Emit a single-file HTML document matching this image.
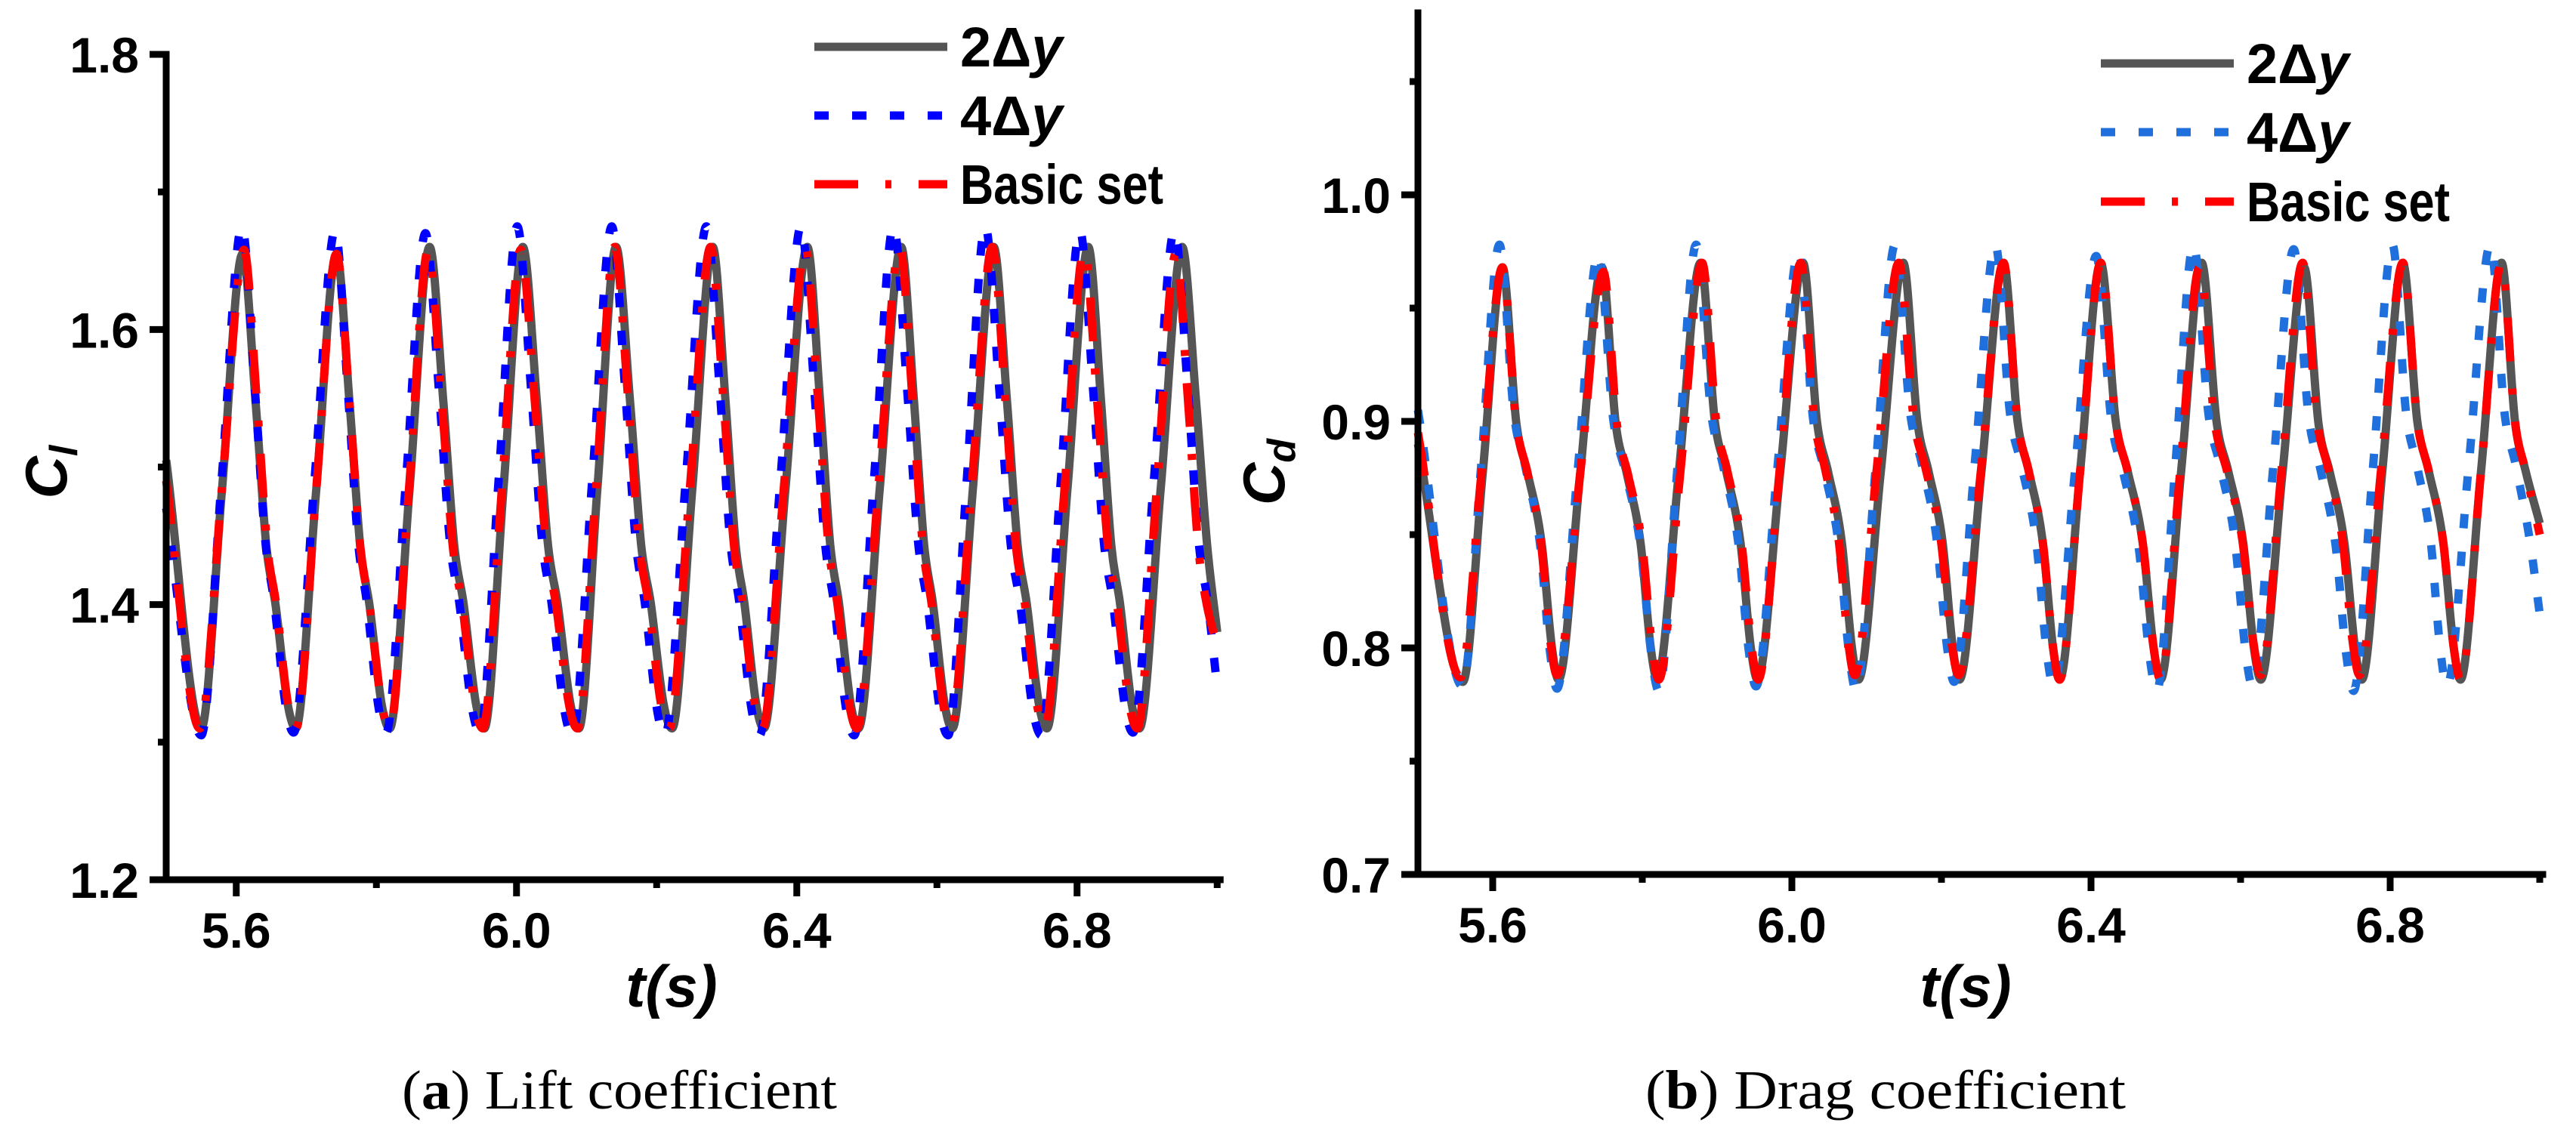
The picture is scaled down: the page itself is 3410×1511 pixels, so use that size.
<!DOCTYPE html>
<html>
<head>
<meta charset="utf-8">
<style>
html,body{margin:0;padding:0;background:#fff;}
svg{display:block;}
.tick{font-family:"Liberation Sans",sans-serif;font-weight:bold;font-size:66px;fill:#000;}
.leg{font-family:"Liberation Sans",sans-serif;font-weight:bold;font-size:74px;fill:#000;}
.ttl{font-family:"Liberation Sans",sans-serif;font-weight:bold;font-style:italic;font-size:78px;fill:#000;}
.cap{font-family:"Liberation Serif",serif;font-size:73px;fill:#000;}
</style>
</head>
<body>
<svg id="fig" width="3410" height="1511" viewBox="0 0 3410 1511" xmlns="http://www.w3.org/2000/svg">
  <g id="chartA"></g>
  <g id="chartB"></g>
</svg>
<script>
// ---------- Lift chart data ----------
const liftGreyPeakT = [5.609,5.743,5.876,6.009,6.142,6.280,6.415,6.549,6.681,6.816,6.950];
const liftGreyPeakV = [1.655,1.655,1.660,1.660,1.660,1.660,1.660,1.660,1.660,1.660,1.660];
const liftGreyTroughT = [5.550,5.685,5.819,5.954,6.089,6.222,6.353,6.488,6.622,6.757,6.889];
const liftGreyTroughV = [1.310,1.310,1.310,1.310,1.310,1.310,1.310,1.310,1.310,1.310,1.310];
const liftGreyEnds = [1.505,1.380];

const liftBluePeakT = [5.608,5.741,5.870,6.001,6.136,6.271,6.406,6.538,6.669,6.804,6.939];
const liftBluePeakV = [1.675,1.672,1.670,1.675,1.675,1.675,1.675,1.675,1.675,1.672,1.672];
const liftBlueTroughT = [5.550,5.682,5.814,5.948,6.080,6.212,6.347,6.482,6.616,6.749,6.880];
const liftBlueTroughV = [1.305,1.307,1.307,1.307,1.305,1.305,1.305,1.305,1.305,1.305,1.307];
const liftBlueEnds = [1.470,1.340];

const liftRedPeakT = [5.611,5.743,5.874,6.006,6.140,6.277,6.412,6.547,6.679,6.810,6.941];
const liftRedPeakV = [1.658,1.655,1.658,1.658,1.660,1.660,1.660,1.660,1.660,1.658,1.655];
const liftRedTroughT = [5.548,5.685,5.819,5.952,6.087,6.218,6.351,6.486,6.620,6.754,6.886];
const liftRedTroughV = [1.310,1.310,1.310,1.310,1.310,1.310,1.310,1.310,1.310,1.310,1.310];
const liftRedEnds = [1.490,1.370];

const liftYTicks = ["1.2","1.4","1.6","1.8"];
const liftXTicks = ["5.6","6.0","6.4","6.8"];

// ---------- Drag chart data ----------
const dragGreyPeakT = [5.613,5.746,5.878,6.015,6.149,6.283,6.413,6.548,6.685,6.817,6.949];
const dragGreyPeakV = [0.968,0.968,0.970,0.970,0.970,0.970,0.970,0.970,0.968,0.970,0.970];
const dragGreyTroughT = [5.560,5.688,5.820,5.954,6.089,6.224,6.358,6.493,6.627,6.762,6.894];
const dragGreyTroughV = [0.785,0.786,0.786,0.786,0.786,0.786,0.786,0.786,0.786,0.786,0.786];
const dragGreyEnds = [0.890,0.855];

const dragBluePeakT = [5.609,5.741,5.872,6.009,6.138,6.272,6.407,6.537,6.671,6.803,6.934];
const dragBluePeakV = [0.978,0.974,0.978,0.975,0.978,0.978,0.973,0.978,0.976,0.978,0.978];
const dragBlueTroughT = [5.560,5.686,5.822,5.952,6.086,6.217,6.350,6.488,6.616,6.751,6.876];
const dragBlueTroughV = [0.783,0.782,0.781,0.783,0.781,0.785,0.783,0.781,0.783,0.781,0.783];
const dragBlueEnds = [0.905,0.815];

const dragRedPeakT = [5.613,5.748,5.880,6.012,6.143,6.283,6.413,6.545,6.683,6.817,6.949];
const dragRedPeakV = [0.968,0.966,0.970,0.970,0.970,0.970,0.970,0.968,0.970,0.970,0.970];
const dragRedTroughT = [5.557,5.686,5.822,5.955,6.084,6.223,6.358,6.493,6.627,6.759,6.894];
const dragRedTroughV = [0.787,0.788,0.786,0.786,0.788,0.788,0.786,0.786,0.788,0.788,0.786];
const dragRedEnds = [0.895,0.850];

const dragYTicks = ["0.7","0.8","0.9","1.0"];
const dragXTicks = ["5.6","6.0","6.4","6.8"];

const legendLabels = ["2Δ","4Δ","Basic set"];

const NS = "http://www.w3.org/2000/svg";
function mk(tag, attrs, parent){
  const e = document.createElementNS(NS, tag);
  for (const k in attrs) e.setAttribute(k, attrs[k]);
  parent.appendChild(e);
  return e;
}

function monoPath(pts){
  const n = pts.length;
  const dx=[], dy=[], m=[];
  for(let i=0;i<n-1;i++){dx.push(pts[i+1][0]-pts[i][0]); dy.push(pts[i+1][1]-pts[i][1]); m.push(dy[i]/dx[i]);}
  const t=[m[0]];
  for(let i=1;i<n-1;i++){ t.push(m[i-1]*m[i]<=0?0:(m[i-1]+m[i])/2); }
  t.push(m[n-2]);
  for(let i=0;i<n-1;i++){
    if(m[i]===0){t[i]=0;t[i+1]=0;continue;}
    const a=t[i]/m[i], b=t[i+1]/m[i], s=a*a+b*b;
    if(s>9){const k=3/Math.sqrt(s); t[i]=k*a*m[i]; t[i+1]=k*b*m[i];}
  }
  let d = "M"+pts[0][0].toFixed(1)+","+pts[0][1].toFixed(1);
  for(let i=0;i<n-1;i++){
    const h=dx[i];
    d += " C"+(pts[i][0]+h/3).toFixed(1)+","+(pts[i][1]+t[i]*h/3).toFixed(1)+" "+
         (pts[i+1][0]-h/3).toFixed(1)+","+(pts[i+1][1]-t[i+1]*h/3).toFixed(1)+" "+
         pts[i+1][0].toFixed(1)+","+pts[i+1][1].toFixed(1);
  }
  return d;
}

function seriesPoints(peakT,peakV,trT,trV,ends,fall,t0,t1){
  const p=[[t0,ends[0]]];
  for(let i=0;i<peakT.length;i++){
    const A = peakV[i]-trV[i];
    p.push([trT[i],trV[i]]);
    p.push([trT[i]+(peakT[i]-trT[i])*0.5, trV[i]+0.5*A]);
    p.push([peakT[i],peakV[i]]);
    const nt = i+1<trT.length ? trT[i+1] : peakT[i]+(peakT[i]-trT[i])*1.3;
    const nv = i+1<trV.length ? trV[i+1] : trV[i];
    const D = nt-peakT[i], B = peakV[i]-nv;
    for(const f of fall){
      const tt = peakT[i]+f[0]*D;
      if(tt<t1-0.004) p.push([tt, nv+f[1]*B]);
    }
  }
  p.push([t1,ends[1]]);
  p.sort((a,b)=>a[0]-b[0]);
  const out=[];
  for(const q of p){ if(out.length && q[0]-out[out.length-1][0]<0.002) continue; out.push(q); }
  return out;
}

function drawChart(g, cfg){
  const X = t => cfg.x0 + (t-cfg.tMin)*cfg.pxPerT;
  const Y = v => cfg.yBase - (v-cfg.vMin)*cfg.pxPerV;
  cfg.series.forEach(s=>{
    const pts = seriesPoints(s.pt,s.pv,s.tt,s.tv,s.ends,cfg.fall,cfg.tMin,cfg.tMax).map(q=>[X(q[0]),Y(q[1])]);
    const path = mk("path",{d:monoPath(pts),fill:"none",stroke:s.color,"stroke-width":11,"stroke-dasharray":s.dash,"stroke-linejoin":"round"},g);
    
    
  });
  const yTop = cfg.yTopPx;
  const ax = mk("path",{d:"M"+cfg.x0+","+yTop+" L"+cfg.x0+","+cfg.yBase+" L"+(X(cfg.tMax)+4)+","+cfg.yBase,fill:"none",stroke:"#000","stroke-width":9,"stroke-linecap":"square"},g);
  
  
  cfg.yTicks.forEach(lbl=>{
    const v=parseFloat(lbl), y=Y(v);
    const tk = mk("line",{x1:cfg.x0-22,y1:y,x2:cfg.x0,y2:y,stroke:"#000","stroke-width":9},g);
    
    
    const tx = mk("text",{x:cfg.x0-36,y:y+24,"text-anchor":"end",class:"tick"},g);
    tx.textContent=lbl;
    
    
  });
  cfg.yMinor.forEach(v=>{
    const y=Y(v);
    const tk = mk("line",{x1:cfg.x0-11,y1:y,x2:cfg.x0,y2:y,stroke:"#000","stroke-width":9},g);
    
    
  });
  cfg.xTicks.forEach(lbl=>{
    const t=parseFloat(lbl), x=X(t);
    const tk = mk("line",{x1:x,y1:cfg.yBase,x2:x,y2:cfg.yBase+22,stroke:"#000","stroke-width":9},g);
    
    
    const tx = mk("text",{x:x,y:cfg.yBase+90,"text-anchor":"middle",class:"tick"},g);
    tx.textContent=lbl;
    
    
  });
  cfg.xMinor.forEach(t=>{
    const x=X(t);
    const tk = mk("line",{x1:x,y1:cfg.yBase,x2:x,y2:cfg.yBase+11,stroke:"#000","stroke-width":9},g);
    
    
  });
  const xt = mk("text",{x:cfg.xTitleX,y:1333,"text-anchor":"middle",class:"ttl"},g);
  xt.textContent="t(s)";
  
  
  const yt = mk("text",{x:0,y:0,"text-anchor":"middle",class:"ttl",transform:"translate("+cfg.yTitleX+",625) rotate(-90)"},g);
  yt.textContent="C";
  const sub = mk("tspan",{"font-size":"52px",dy:"14"},yt);
  sub.textContent=cfg.sub;
  
  
  cfg.series.forEach((s,i)=>{
    const ly = cfg.legY[i];
    const ln = mk("line",{x1:cfg.legX,y1:ly,x2:cfg.legX+176,y2:ly,stroke:s.color,"stroke-width":11,"stroke-dasharray":s.legDash},g);
    
    
    const tx = mk("text",{x:cfg.legX+193,y:ly+26,class:"leg"},g);
    tx.textContent = legendLabels[i];
    if(i===2){ tx.setAttribute("textLength","269"); tx.setAttribute("lengthAdjust","spacingAndGlyphs"); }
    else { const yy = mk("tspan",{"font-style":"italic"},tx); yy.textContent="y"; }
    
    
  });
  const cp = mk("text",{x:cfg.capX,y:1468,class:"cap",textLength:cfg.capW,lengthAdjust:"spacingAndGlyphs"},g);
  cp.innerHTML = "(<tspan font-weight='bold'>"+cfg.capLetter+"</tspan>) "+cfg.capText;
  
  
}

drawChart(document.getElementById("chartA"),{
  x0:220, tMin:5.5, tMax:7.0, pxPerT:927.5,
  yBase:1165, vMin:1.2, pxPerV:1821.7, yTopPx:72,
  yTicks:liftYTicks, yMinor:[1.3,1.5,1.7], xTicks:liftXTicks, xMinor:[5.8,6.2,6.6,7.0],
  fall:[[0.25,0.68],[0.45,0.38],[0.62,0.26],[0.85,0.05]],
  series:[
    {name:"series-2dy",color:"#555555",dash:"none",legDash:"none",pt:liftGreyPeakT,pv:liftGreyPeakV,tt:liftGreyTroughT,tv:liftGreyTroughV,ends:liftGreyEnds},
    {name:"series-4dy",color:"#0000ff",dash:"19 31",legDash:"19 31",pt:liftBluePeakT,pv:liftBluePeakV,tt:liftBlueTroughT,tv:liftBlueTroughV,ends:liftBlueEnds},
    {name:"series-basic-set",color:"#ff0000",dash:"58 36 8 36",legDash:"58 36 8 36",pt:liftRedPeakT,pv:liftRedPeakV,tt:liftRedTroughT,tv:liftRedTroughV,ends:liftRedEnds}
  ],
  xTitleX:889, yTitleX:88, sub:"l",
  legX:1078, legY:[62,153,244],
  capX:532, capW:576, capLetter:"a", capText:"Lift coefficient"
});

drawChart(document.getElementById("chartB"),{
  x0:1877, tMin:5.5, tMax:7.0, pxPerT:990,
  yBase:1158, vMin:0.7, pxPerV:3000, yTopPx:17,
  yTicks:dragYTicks, yMinor:[0.75,0.85,0.95,1.05], xTicks:dragXTicks, xMinor:[5.8,6.2,6.6,7.0],
  fall:[[0.25,0.62],[0.45,0.50],[0.7,0.33],[0.88,0.08]],
  series:[
    {name:"series-2dy",color:"#555555",dash:"none",legDash:"none",pt:dragGreyPeakT,pv:dragGreyPeakV,tt:dragGreyTroughT,tv:dragGreyTroughV,ends:dragGreyEnds},
    {name:"series-4dy",color:"#1f6fdc",dash:"19 31",legDash:"19 31",pt:dragBluePeakT,pv:dragBluePeakV,tt:dragBlueTroughT,tv:dragBlueTroughV,ends:dragBlueEnds},
    {name:"series-basic-set",color:"#ff0000",dash:"58 36 8 36",legDash:"58 36 8 36",pt:dragRedPeakT,pv:dragRedPeakV,tt:dragRedTroughT,tv:dragRedTroughV,ends:dragRedEnds}
  ],
  xTitleX:2602, yTitleX:1700, sub:"d",
  legX:2781, legY:[84,175,267],
  capX:2178, capW:636, capLetter:"b", capText:"Drag coefficient"
});
</script>
</body>
</html>
